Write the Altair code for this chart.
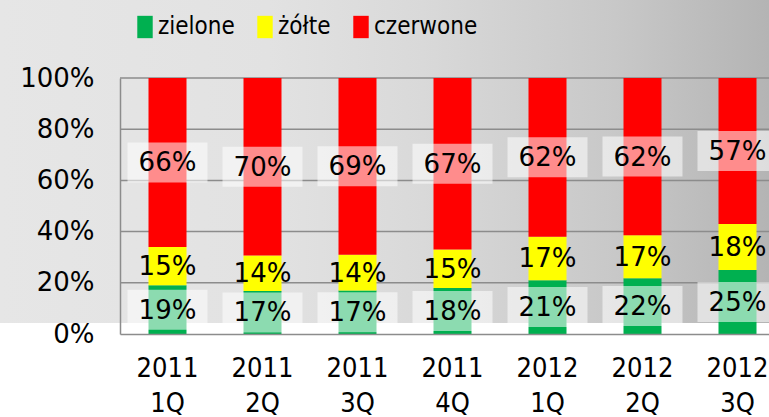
import altair as alt
import pandas as pd

categories = ["2011 1Q", "2011 2Q", "2011 3Q", "2011 4Q", "2012 1Q", "2012 2Q", "2012 3Q"]
zielone = [19, 17, 17, 18, 21, 22, 25]
zolte = [15, 14, 14, 15, 17, 17, 18]
czerwone = [66, 70, 69, 67, 62, 62, 57]
series_names = ["zielone", "żółte", "czerwone"]
series_colors = ["#00b050", "#ffff00", "#ff0000"]
y_ticks = [0, 0.2, 0.4, 0.6, 0.8, 1.0]

rows = []
for i, c in enumerate(categories):
    for k, (name, vals) in enumerate(zip(series_names, [zielone, zolte, czerwone])):
        rows.append({"cat": c, "series": name, "order": k, "value": vals[i]})
df = pd.DataFrame(rows)

FONT = "DejaVu Sans"
COND = "DejaVu Sans Condensed"

x_enc = alt.X(
    "cat:N",
    sort=categories,
    scale=alt.Scale(range=[0, 665], paddingInner=0.6, paddingOuter=0.3),
    axis=alt.Axis(
        title=None, labelExpr="split(datum.label, ' ')", ticks=False, labelAngle=0,
        labelFont=COND, labelFontSize=27, labelLineHeight=35, labelPadding=21,
        labelColor="black", domainColor="#8c8c8c", domainWidth=1.5, grid=False, zindex=1,
    ),
)

y_axis = alt.Axis(
    title=None, values=y_ticks, format="%", ticks=False, grid=False,
    labelFont=FONT, labelFontSize=26, labelPadding=26, labelColor="black",
    domainColor="#8c8c8c", domainWidth=1.5, zindex=1,
)
y_scale = alt.Scale(domain=[0, 1])

base = alt.Chart(df).transform_stack(
    stack="value", groupby=["cat"], as_=["y0", "y1"], offset="normalize",
    sort=[alt.SortField("order", order="ascending")],
).transform_calculate(mid="(datum.y0 + datum.y1) / 2", label="datum.value + '%'")

background = alt.Chart(pd.DataFrame({"a": [0]})).mark_rect(
    fill=alt.LinearGradient(
        gradient="linear", x1=0, x2=1, y1=0, y2=0,
        stops=[
            alt.GradientStop(offset=0, color="#e6e6e6"),
            alt.GradientStop(offset=0.35, color="#e2e2e2"),
            alt.GradientStop(offset=0.55, color="#d9d9d9"),
            alt.GradientStop(offset=0.8, color="#c8c8c8"),
            alt.GradientStop(offset=1, color="#b4b4b4"),
        ],
    )
).encode(x=alt.value(-120), x2=alt.value(649), y=alt.value(-78), y2=alt.value(245))

grid = alt.Chart(pd.DataFrame({"v": y_ticks[1:]})).mark_rule(
    color="#8c8c8c", strokeWidth=1.5
).encode(y=alt.Y("v:Q", scale=y_scale, axis=y_axis))

bars = base.mark_bar().encode(
    x=x_enc,
    y=alt.Y("y0:Q", scale=y_scale, axis=y_axis),
    y2="y1:Q",
    color=alt.Color(
        "series:N",
        scale=alt.Scale(domain=series_names, range=series_colors),
        legend=alt.Legend(
            title=None, orient="none", legendX=13, legendY=-63, direction="horizontal",
            symbolType="M-0.69,-1H0.69V1H-0.69Z", symbolSize=500, symbolStrokeWidth=0,
            labelFont=COND, labelFontSize=24, labelOffset=1, columnPadding=18,
            padding=0, labelColor="black",
        ),
    ),
)

boxes = base.transform_filter("datum.series != 'żółte'").mark_point(
    shape="M-1,-0.5H1V0.5H-1Z", size=6400, filled=True, color="white",
    opacity=0.55, strokeWidth=0,
).encode(x=x_enc, y=alt.Y("mid:Q", scale=y_scale, axis=y_axis))

texts = base.mark_text(
    font=FONT, fontSize=26, color="black", baseline="middle", dy=1
).encode(x=x_enc, y=alt.Y("mid:Q", scale=y_scale, axis=y_axis), text="label:N")

chart = alt.layer(background, grid, bars, boxes, texts).properties(
    width=649, height=256,
    autosize=alt.AutoSizeParams(type="none"),
    padding={"left": 120, "top": 78, "right": 0, "bottom": 83},
    background="white",
).configure_view(stroke=None)

chart.save("out.html", embed_options={"renderer": "svg", "actions": False})
